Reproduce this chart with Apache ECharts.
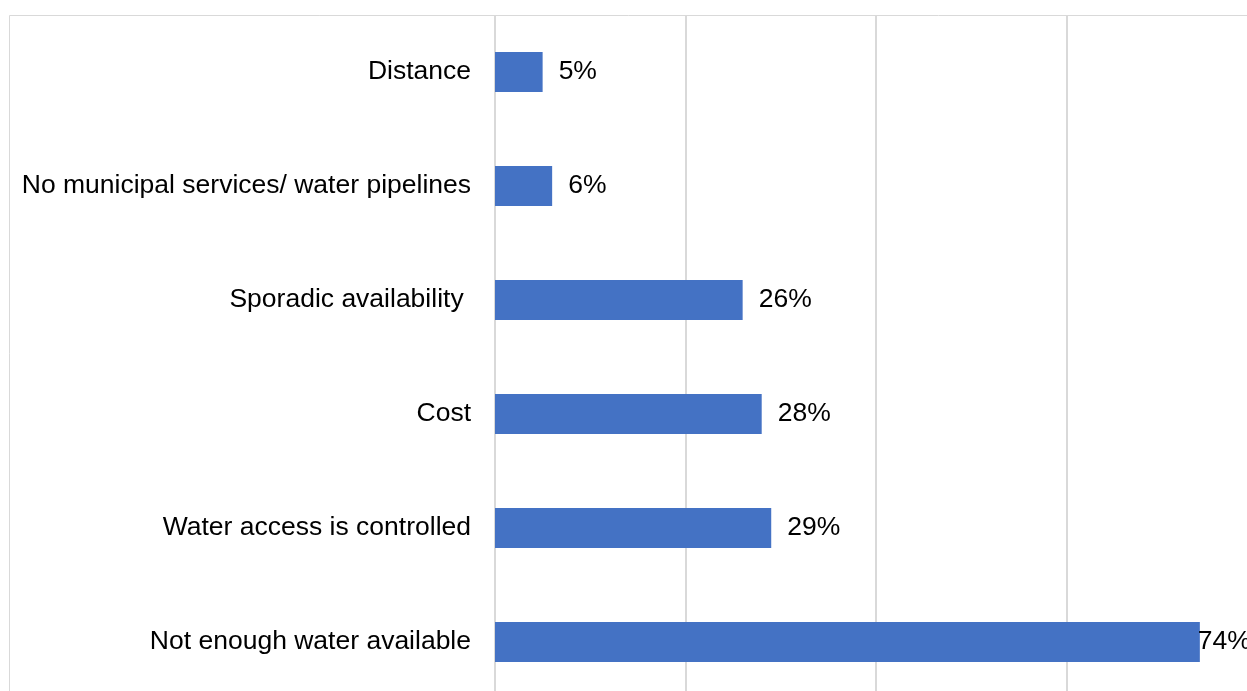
<!DOCTYPE html>
<html>
<head>
<meta charset="utf-8">
<script src="https://cdn.jsdelivr.net/npm/echarts@6/dist/echarts.min.js"></script>
<style>html,body{margin:0;padding:0;background:#fff;}#c{width:1247px;height:691px;}</style>
</head>
<body>
<div id="c"></div>
<script>
const categories = ["Distance", "No municipal services/ water pipelines", "Sporadic availability ", "Cost", "Water access is controlled", "Not enough water available"];
const values = [5, 6, 26, 28, 29, 74];
const xTicks = [0, 20, 40, 60, 80];

const chart = echarts.init(document.getElementById('c'), null, {renderer: 'canvas'});
const font = 'Liberation Sans, Arial, sans-serif';
chart.setOption({
  animation: false,
  backgroundColor: '#fff',
  graphic: [{
    type: 'rect', z: -1, silent: true,
    shape: {x: 9.5, y: 15.5, width: 1260, height: 720},
    style: {fill: 'none', stroke: '#d9d9d9', lineWidth: 1}
  }],
  grid: {left: 495, top: 15, width: 762, height: 684, containLabel: false, outerBoundsMode: 'none'},
  xAxis: {
    type: 'value', min: xTicks[0], max: xTicks[xTicks.length - 1], interval: 20,
    axisLine: {show: false}, axisTick: {show: false}, axisLabel: {show: false},
    splitLine: {show: true, lineStyle: {color: '#d9d9d9', width: 2}}
  },
  yAxis: {
    type: 'category', data: categories, inverse: true,
    axisLine: {show: false}, axisTick: {show: false},
    axisLabel: {color: '#000', fontSize: 26.5, fontFamily: font, margin: 24, padding: [4, 0, 0, 0]}
  },
  series: [{
    type: 'bar', barWidth: 40,
    itemStyle: {color: '#4472C4'},
    data: values.map((v, i) => ({
      value: v,
      label: i === values.length - 1 ? {distance: -2} : undefined
    })),
    label: {
      show: true, position: 'right', distance: 16, padding: [4, 0, 0, 0],
      formatter: p => p.value + '%',
      color: '#000', fontSize: 26.5, fontFamily: font
    }
  }]
});
</script>
</body>
</html>
